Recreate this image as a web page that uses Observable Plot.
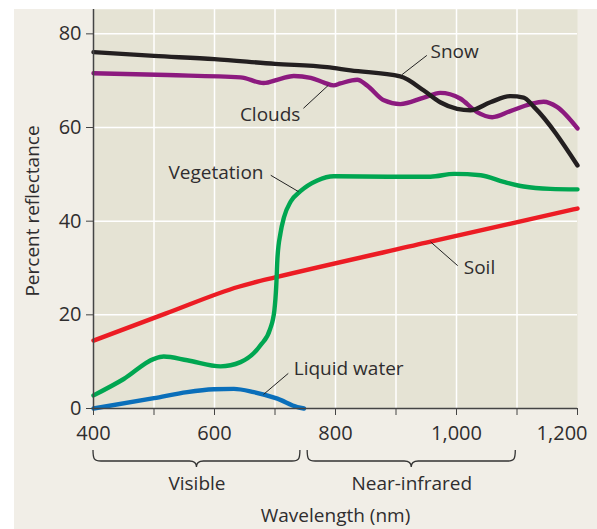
<!DOCTYPE html>
<html>
<head>
<meta charset="utf-8">
<script src="https://cdn.jsdelivr.net/npm/d3@7"></script>
<script src="https://cdn.jsdelivr.net/npm/@observablehq/plot@0.6"></script>
<style>
html, body { margin: 0; padding: 0; background: #ffffff; }
#chart { width: 597px; height: 529px; }
</style>
</head>
<body>
<div id="chart"></div>
<script>
// ---- Data ----
const seriesNames = ["Soil", "Liquid water", "Vegetation", "Clouds", "Snow"];
const seriesColors = ["#ec1c24", "#0a6fba", "#00a651", "#8c1a7f", "#231f20"];

const snowWavelength = [400, 500, 600, 700, 786, 825, 907, 946, 973, 1001, 1023, 1056, 1089, 1111, 1128, 1200];
const snowReflectance = [76.1, 75.3, 74.6, 73.6, 72.9, 72.2, 70.9, 67.9, 65.4, 64.0, 63.7, 65.4, 66.7, 66.4, 64.4, 51.9];

const cloudsWavelength = [400, 522, 643, 681, 709, 731, 759, 781, 797, 808, 836, 852, 880, 907, 946, 973, 1006, 1034, 1059, 1089, 1122, 1144, 1166, 1200];
const cloudsReflectance = [71.6, 71.2, 70.7, 69.5, 70.4, 71.0, 70.6, 69.6, 69.0, 69.4, 70.2, 69.0, 65.8, 65.0, 66.4, 67.4, 66.2, 63.3, 62.2, 63.5, 65.0, 65.5, 64.4, 59.8];

const vegetationWavelength = [400, 450, 500, 516, 555, 610, 643, 676, 692, 699, 702, 704, 709, 715, 726, 742, 770, 797, 891, 957, 996, 1040, 1078, 1111, 1155, 1200];
const vegetationReflectance = [2.8, 6.3, 10.6, 11.1, 10.3, 9.0, 9.9, 13.5, 17.0, 21.0, 26.0, 32.0, 37.4, 40.9, 44.2, 46.4, 48.7, 49.6, 49.5, 49.5, 50.1, 49.8, 48.4, 47.4, 46.9, 46.8];

const soilWavelength = [400, 520, 640, 665, 700, 950, 1200];
const soilReflectance = [14.5, 20.3, 26.0, 26.9, 28.0, 35.4, 42.7];

const waterWavelength = [400, 500, 555, 599, 632, 665, 704, 737, 748];
const waterReflectance = [0, 2.2, 3.5, 4.1, 4.2, 3.5, 2.1, 0.3, 0];

// Tick values
const xTickValues = [400, 500, 600, 700, 800, 900, 1000, 1100, 1200];
const xLabelledTicks = [400, 600, 800, 1000];
const xLastTick = [1200];
const yTickValues = [0, 20, 40, 60, 80];

// Curve labels (wavelength, reflectance) and leader lines
const labelsStartText = ["Snow", "Soil", "Liquid water"];
const labelsStartX = [957, 1012, 731];
const labelsStartY = [76.1, 30.1, 8.5];
const labelsEndText = ["Clouds", "Vegetation"];
const labelsEndX = [742, 681];
const labelsEndY = [62.6, 50.4];

const leaderX1 = [951, 747, 693, 1002, 722];
const leaderY1 = [75.4, 64.1, 49.8, 30.5, 7.5];
const leaderX2 = [910, 788, 739, 957, 681];
const leaderY2 = [71.3, 69.0, 46.3, 35.6, 3.0];

// Spectral regions (braces under the axis)
const regionNames = ["Visible", "Near-infrared"];
const regionStart = [400, 754];
const regionEnd = [742, 1098];

// ---- Build tables ----
const seriesWl = [soilWavelength, waterWavelength, vegetationWavelength, cloudsWavelength, snowWavelength];
const seriesR = [soilReflectance, waterReflectance, vegetationReflectance, cloudsReflectance, snowReflectance];
const rows = [];
seriesNames.forEach((name, i) => {
  seriesWl[i].forEach((w, j) => rows.push({series: name, wavelength: w, reflectance: seriesR[i][j]}));
});
const leaders = leaderX1.map((x1, i) => ({x1, y1: leaderY1[i], x2: leaderX2[i], y2: leaderY2[i]}));
const startLabels = labelsStartText.map((t, i) => ({t, x: labelsStartX[i], y: labelsStartY[i]}));
const endLabels = labelsEndText.map((t, i) => ({t, x: labelsEndX[i], y: labelsEndY[i]}));
const regions = regionNames.map((n, i) => ({n, a: regionStart[i], b: regionEnd[i], mid: (regionStart[i] + regionEnd[i]) / 2}));

const textColor = "#2f2d2e";
const axisColor = "#444444";
const fmt = d3.format(",");

const plot = Plot.plot({
  width: 597,
  height: 529,
  marginLeft: 93,
  marginRight: 20,
  marginTop: 9,
  marginBottom: 121,
  style: {fontFamily: "'Open Sans', sans-serif", fontSize: "19px", color: textColor, background: "transparent", overflow: "visible"},
  x: {domain: [400, 1200]},
  y: {domain: [0, 85.2]},
  color: {domain: seriesNames, range: seriesColors},
  marks: [
    Plot.frame({fill: "#e5e3d4", stroke: null}),
    Plot.gridX(xTickValues.filter(d => d > 400 && d < 1200), {stroke: "#ffffff", strokeOpacity: 1, strokeWidth: 1.5}),
    Plot.gridY(yTickValues.filter(d => d > 0), {stroke: "#ffffff", strokeOpacity: 1, strokeWidth: 1.5}),
    Plot.line(rows, {x: "wavelength", y: "reflectance", z: "series", stroke: "series", strokeWidth: 4.4, curve: "monotone-x", strokeLinejoin: "round"}),
    Plot.link(leaders, {x1: "x1", y1: "y1", x2: "x2", y2: "y2", stroke: "#222", strokeWidth: 1}),
    Plot.text(startLabels, {x: "x", y: "y", text: "t", textAnchor: "start", lineAnchor: "middle", fill: textColor}),
    Plot.text(endLabels, {x: "x", y: "y", text: "t", textAnchor: "end", lineAnchor: "middle", fill: textColor}),
    Plot.ruleY([0], {stroke: axisColor, strokeWidth: 1.5}),
    Plot.ruleX([400], {stroke: axisColor, strokeWidth: 1.5}),
    Plot.axisY(yTickValues, {tickSize: 7, tickPadding: 5, label: null, fontSize: 20, color: textColor, stroke: axisColor}),
    Plot.axisX(xTickValues, {tickSize: 7, tickPadding: 10, label: null, fontSize: 20, tickFormat: d => xLabelledTicks.includes(d) ? fmt(d) : "", color: textColor, stroke: axisColor}),
    Plot.axisX(xLastTick, {tickSize: 0, tickPadding: 17, label: null, fontSize: 20, tickFormat: d => fmt(d), textAnchor: "end", dx: 10, color: textColor, stroke: axisColor}),
    Plot.text(regions, {x: "mid", text: "n", frameAnchor: "bottom", dy: 75, lineAnchor: "middle", fill: textColor}),
    Plot.text(["Wavelength (nm)"], {frameAnchor: "bottom", dy: 107, lineAnchor: "middle", fill: textColor}),
    Plot.text(["Percent reflectance"], {frameAnchor: "left", textAnchor: "middle", rotate: -90, dx: -61, dy: 2, lineAnchor: "middle", fill: textColor})
  ]
});

// Outer panel background and braces, positioned through Plot's scales
const svg = d3.select(plot);
svg.insert("rect", ":first-child")
  .attr("x", 14).attr("y", 9).attr("width", 583).attr("height", 520).attr("fill", "#f1eee7");
const xs = plot.scale("x");
const ys = plot.scale("y");
const yZero = ys.apply(0);
const braceTop = yZero + 42, braceBar = yZero + 53, braceTip = yZero + 59;
regions.forEach(r => {
  const a = xs.apply(r.a), b = xs.apply(r.b), m = xs.apply(r.mid);
  const d = `M${a},${braceTop} C${a},${braceBar - 2} ${a + 1},${braceBar} ${a + 8},${braceBar} L${m - 7},${braceBar} C${m - 2},${braceBar} ${m},${braceBar + 2} ${m},${braceTip} C${m},${braceBar + 2} ${m + 2},${braceBar} ${m + 7},${braceBar} L${b - 8},${braceBar} C${b - 1},${braceBar} ${b},${braceBar - 2} ${b},${braceTop}`;
  svg.append("path").attr("d", d).attr("fill", "none").attr("stroke", "#333").attr("stroke-width", 1.3);
});

document.getElementById("chart").appendChild(plot);
</script>
</body>
</html>
